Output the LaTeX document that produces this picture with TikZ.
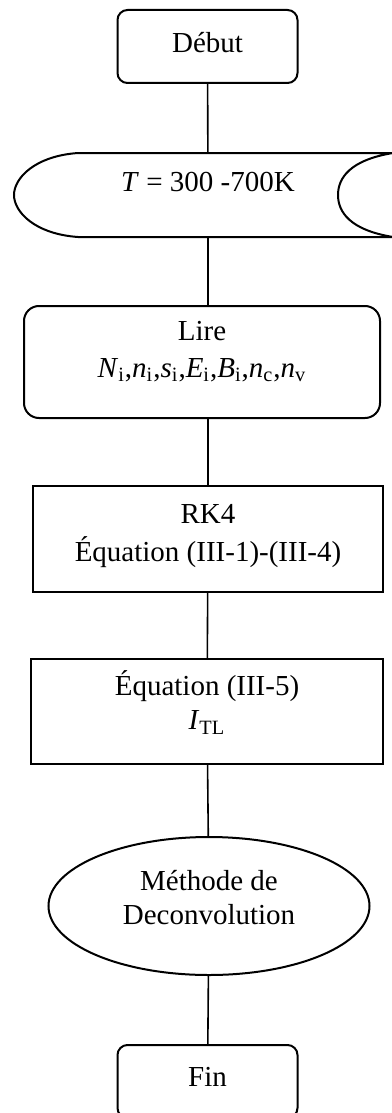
\documentclass[tikz,border=0pt]{standalone}
\usepackage{fontspec}
\setmainfont{Liberation Serif}
\usetikzlibrary{positioning,shapes.geometric}

\begin{document}
\begin{tikzpicture}[
  x=0.5pt, y=-0.5pt,
  every node/.style={font=\fontsize{14.5}{17}\selectfont, inner sep=0pt},
  terminal/.style={draw, line width=1pt, rounded corners=5pt,
    minimum width=90pt, minimum height=36.5pt, text depth=4.3pt},
  readbox/.style={draw, line width=1pt, rounded corners=7.5pt,
    minimum width=178pt, minimum height=56pt},
  process/.style={draw, line width=1pt,
    minimum width=175pt, minimum height=53pt},
  method/.style={draw, line width=1pt, ellipse,
    minimum width=160.5pt, minimum height=69pt},
  link/.style={line width=0.8pt},
]
\useasboundingbox (0,0) rectangle (391,1113);

\node[terminal] at (207.5,46.5) (debut) {Début};
\node[minimum height=42pt, text depth=12.7pt] at (208,195) (temp) {\textit{T} = 300 -700K};
\node[readbox, text depth=24.4pt] at (202,362) (lire) {\begin{tabular}{@{}c@{}}Lire\\[1.5pt]
  \textit{N}\textsubscript{i},\textit{n}\textsubscript{i},\textit{s}\textsubscript{i},\textit{E}\textsubscript{i},\textit{B}\textsubscript{i},\textit{n}\textsubscript{c},\textit{n}\textsubscript{v}\end{tabular}};
\node[process, text depth=17.4pt] at (208,538.5) (rk) {\begin{tabular}{@{}c@{}}RK4\\[1.5pt]Équation (III-1)-(III-4)\end{tabular}};
\node[process, minimum width=176pt, minimum height=52.5pt, text depth=19.6pt] at (207,711.5) (eqtl) {\begin{tabular}{@{}c@{}}Équation (III-5)\\\textit{I}\textsubscript{TL}\end{tabular}};
\node[method, text depth=18.6pt] at (209,906) (deconv) {\begin{tabular}{@{}c@{}}Méthode de\\Deconvolution\end{tabular}};
\node[terminal] at (207.5,1081.5) (fin) {Fin};

% entree des temperatures
\draw[line width=1pt] (393,153) -- (78,153)
  .. controls (35,156) and (14,178) .. (14,195)
  .. controls (14,212) and (35,234) .. (78,237) -- (393,237)
  .. controls (350,230) and (338,212) .. (338,195)
  .. controls (338,178) and (350,160) .. (393,153);

\draw[link] (debut) -- (temp);
\draw[link] (temp.south) -- (temp.south |- lire.north);
\draw[link] (lire.south -| rk.north) -- (rk.north);
\draw[link] (rk) -- (eqtl);
\draw[link] (eqtl) -- (deconv);
\draw[link] (deconv) -- (fin);
\end{tikzpicture}
\end{document}
